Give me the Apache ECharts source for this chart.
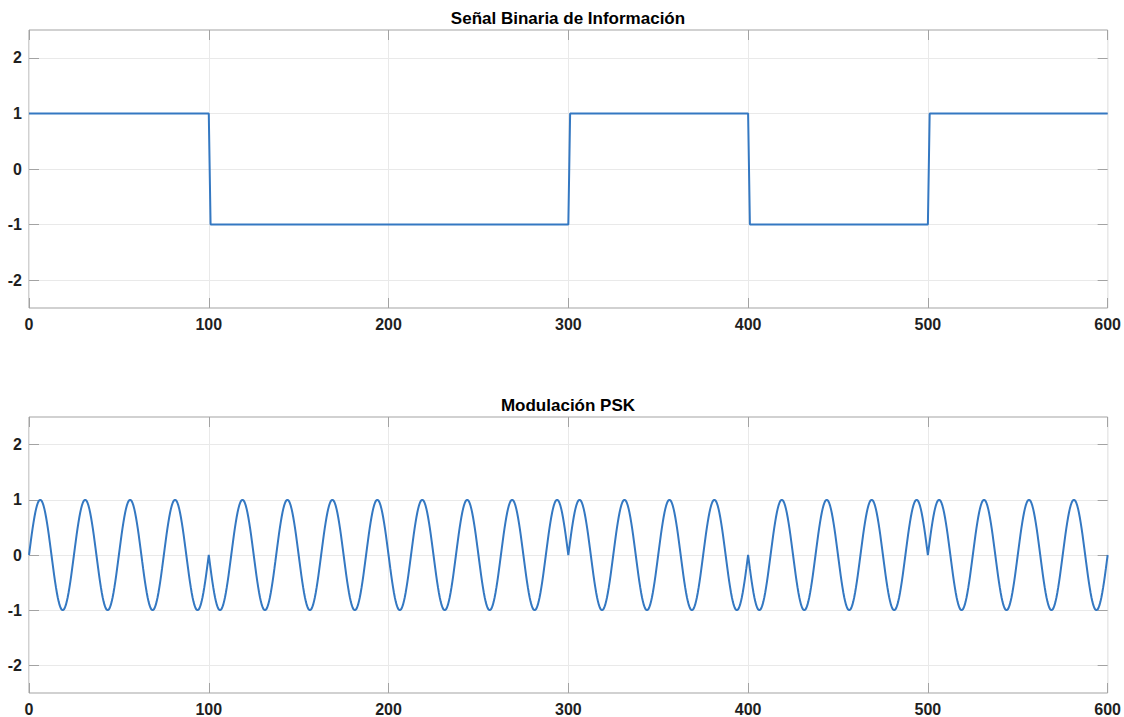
<!DOCTYPE html>
<html>
<head>
<meta charset="utf-8">
<title>Señal Binaria y Modulación PSK</title>
<script src="https://cdn.jsdelivr.net/npm/echarts@6/dist/echarts.min.js"></script>
<style>
  html, body { margin: 0; padding: 0; background: #ffffff; }
  #chart { width: 1124px; height: 717px; }
</style>
</head>
<body>
<div id="chart"></div>
<script>
// Bit stream (one value per bit interval) and carrier parameters
const bitValues = [1, -1, -1, 1, -1, 1];
const bitDuration = 100;          // samples per bit
const carrierCyclesPerBit = 4;    // carrier periods inside one bit
const sampleStep = 0.5;

const xTickValues = [0, 100, 200, 300, 400, 500, 600];
const yTickValues = [-2, -1, 0, 1, 2];

const titles = ['Señal Binaria de Información', 'Modulación PSK'];

// Binary NRZ signal: flat level per bit, switching within one sample
const binarySignal = [];
bitValues.forEach((b, i) => {
  const start = i * bitDuration + (i > 0 ? 1 : 0);
  binarySignal.push([start, b], [(i + 1) * bitDuration, b]);
});

// PSK: each bit multiplies the carrier (phase 0 for +1, phase pi for -1)
const pskSignal = [];
const total = bitValues.length * bitDuration;
for (let n = 0; n <= total / sampleStep; n++) {
  const t = n * sampleStep;
  const seg = Math.min(Math.floor(t / bitDuration), bitValues.length - 1);
  const local = t - seg * bitDuration;
  const carrier = Math.sin(2 * Math.PI * carrierCyclesPerBit * local / bitDuration);
  pskSignal.push([t, bitValues[seg] * carrier]);
}

const FONT = '"Liberation Sans", Arial, Helvetica, sans-serif';
const AXIS_COLOR = '#a3a3a3';
const GRID_COLOR = '#e9e9e9';
const LINE_COLOR = '#3478c2';
const LABEL_COLOR = '#1f1f1f';

const gridBoxes = [
  { left: 29, right: 16, top: 30, height: 278 },
  { left: 29, right: 16, top: 417, height: 277 }
];

function xAxes(gi) {
  const base = {
    type: 'value', gridIndex: gi, min: 0, max: 600, interval: 100,
    axisLine: { show: false, onZero: false },
    axisTick: { show: true, inside: true, length: 10, lineStyle: { color: AXIS_COLOR, width: 1 } }
  };
  return [
    Object.assign({}, base, {
      position: 'bottom',
      axisLabel: { show: true, color: LABEL_COLOR, fontFamily: FONT, fontWeight: 'bold', fontSize: 16, margin: 8 },
      splitLine: { show: true, lineStyle: { color: GRID_COLOR, width: 1 } }
    }),
    Object.assign({}, base, {
      position: 'top',
      axisLabel: { show: false },
      splitLine: { show: false }
    })
  ];
}

function yAxes(gi) {
  const base = {
    type: 'value', gridIndex: gi, min: -2.5, max: 2.5, splitNumber: 5,
    axisLine: { show: false, onZero: false },
    axisTick: {
      show: true, inside: true, length: 10,
      customValues: yTickValues,
      lineStyle: { color: AXIS_COLOR, width: 1 }
    }
  };
  return [
    Object.assign({}, base, {
      position: 'left',
      axisLabel: {
        show: true, color: LABEL_COLOR, fontFamily: FONT, fontWeight: 'bold', fontSize: 16, margin: 7,
        customValues: yTickValues
      },
      splitLine: { show: true, lineStyle: { color: GRID_COLOR, width: 1 } }
    }),
    Object.assign({}, base, {
      position: 'right',
      axisLabel: { show: false },
      splitLine: { show: false }
    })
  ];
}

const chart = echarts.init(document.getElementById('chart'), null, { renderer: 'svg' });

chart.setOption({
  backgroundColor: '#ffffff',
  animation: false,
  grid: gridBoxes.map(g => Object.assign({
    show: true, borderColor: AXIS_COLOR, borderWidth: 1, backgroundColor: 'transparent'
  }, g)),
  xAxis: [].concat(xAxes(0), xAxes(1)),
  yAxis: [].concat(yAxes(0), yAxes(1)),
  graphic: titles.map((txt, i) => ({
    type: 'text',
    x: 568,
    y: i === 0 ? 18 : 405,
    style: {
      text: txt,
      fill: '#000000',
      font: 'bold 17px ' + FONT,
      textAlign: 'center',
      textVerticalAlign: 'middle'
    }
  })),
  series: [
    {
      type: 'line', xAxisIndex: 0, yAxisIndex: 0,
      data: binarySignal, showSymbol: false, symbol: 'none',
      lineStyle: { color: LINE_COLOR, width: 2 }
    },
    {
      type: 'line', xAxisIndex: 2, yAxisIndex: 2,
      data: pskSignal, showSymbol: false, symbol: 'none',
      lineStyle: { color: LINE_COLOR, width: 2 }
    }
  ]
});
</script>
</body>
</html>
